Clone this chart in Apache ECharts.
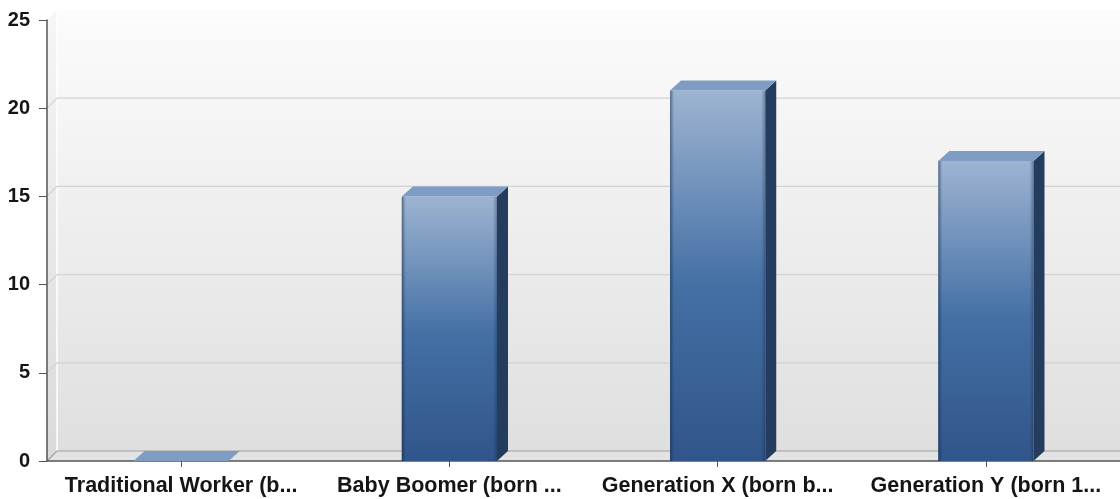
<!DOCTYPE html>
<html>
<head>
<meta charset="utf-8">
<script src="https://cdn.jsdelivr.net/npm/echarts@6/dist/echarts.min.js"></script>
<style>
  html, body { margin: 0; padding: 0; background: #ffffff; }
  #chart { width: 1120px; height: 499px; }
</style>
</head>
<body>
<div id="chart"></div>
<script>
// Generational groups and their counts
const categories = [
  'Traditional Worker (b...',
  'Baby Boomer (born ...',
  'Generation X (born b...',
  'Generation Y (born 1...'
];
const counts = [0, 15, 21, 17];
const yTicks = [0, 5, 10, 15, 20, 25];

const WALL_DEPTH = 10;   // depth of the back wall / floor
const BAR_DX = 11;       // bar side-face offset
const BAR_DY = 10;

const chart = echarts.init(document.getElementById('chart'), null, { renderer: 'canvas' });

// Back wall, left wall, floor and gridlines drawn as one shape group
function renderWalls(params, api) {
  const cs = params.coordSys;
  const x0 = cs.x, x1 = cs.x + cs.width;
  const yTop = api.coord([0, yTicks[yTicks.length - 1]])[1];
  const yBase = api.coord([0, 0])[1];
  const D = WALL_DEPTH;
  const children = [];

  // back wall
  children.push({
    type: 'rect',
    shape: { x: x0 + D, y: yTop - D, width: x1 - x0 - D, height: yBase - yTop },
    style: {
      fill: new echarts.graphic.LinearGradient(0, 0, 0, 1, [
        { offset: 0, color: '#fcfcfc' },
        { offset: 1, color: '#dfdfdf' }
      ])
    }
  });
  // left wall
  children.push({
    type: 'polygon',
    shape: { points: [[x0, yTop], [x0 + D, yTop - D], [x0 + D, yBase - D], [x0, yBase]] },
    style: {
      fill: new echarts.graphic.LinearGradient(0, 0, 0, 1, [
        { offset: 0, color: '#f6f6f6' },
        { offset: 1, color: '#dadada' }
      ])
    }
  });
  // white edge between left wall and back wall
  children.push({
    type: 'line',
    shape: { x1: x0 + D, y1: yTop - D, x2: x0 + D, y2: yBase - D },
    style: { stroke: '#ffffff', lineWidth: 1.5 }
  });
  // gridlines
  yTicks.forEach(function (v) {
    if (v === 0 || v === yTicks[yTicks.length - 1]) return;
    const y = api.coord([0, v])[1];
    children.push({
      type: 'polyline',
      shape: { points: [[x0, y], [x0 + D, y - D], [x1, y - D]] },
      style: { stroke: '#d2d2d2', lineWidth: 1.2, fill: null }
    });
  });
  // floor
  children.push({
    type: 'polygon',
    shape: { points: [[x0, yBase], [x0 + D, yBase - D], [x1, yBase - D], [x1, yBase]] },
    style: { fill: '#e3e3e3' }
  });
  children.push({
    type: 'polyline',
    shape: { points: [[x0, yBase], [x0 + D, yBase - D], [x1, yBase - D]] },
    style: { stroke: '#a0a0a0', lineWidth: 1.2, fill: null }
  });
  return { type: 'group', children: children };
}

// 3D-looking column: front face, right side face and top face
function renderBar(params, api) {
  const idx = api.value(0);
  const val = api.value(1);
  const top = api.coord([idx, val]);
  const base = api.coord([idx, 0]);
  const w = api.size([1, 0])[0] * 0.355;
  const xl = top[0] - w / 2, xr = top[0] + w / 2;
  const yt = top[1], yb = base[1];
  const children = [];

  if (yb - yt > 0) {
    children.push({
      type: 'rect',
      shape: { x: xl, y: yt, width: w, height: yb - yt },
      style: {
        fill: new echarts.graphic.LinearGradient(0, 0, 0, 1, [
          { offset: 0, color: '#9db4d2' },
          { offset: 0.52, color: '#4470a5' },
          { offset: 1, color: '#30558a' }
        ])
      }
    });
    // soft shading along left and right edges of the front face
    children.push({
      type: 'rect',
      shape: { x: xl, y: yt, width: 4, height: yb - yt },
      style: {
        fill: new echarts.graphic.LinearGradient(0, 0, 1, 0, [
          { offset: 0, color: 'rgba(20,35,60,0.5)' },
          { offset: 1, color: 'rgba(20,35,60,0)' }
        ])
      }
    });
    children.push({
      type: 'rect',
      shape: { x: xr - 4, y: yt, width: 4, height: yb - yt },
      style: {
        fill: new echarts.graphic.LinearGradient(0, 0, 1, 0, [
          { offset: 0, color: 'rgba(20,35,60,0)' },
          { offset: 1, color: 'rgba(20,35,60,0.35)' }
        ])
      }
    });
    children.push({
      type: 'polygon',
      shape: { points: [[xr, yt], [xr + BAR_DX, yt - BAR_DY], [xr + BAR_DX, yb - BAR_DY], [xr, yb]] },
      style: { fill: '#243d5e' }
    });
  }
  children.push({
    type: 'polygon',
    shape: { points: [[xl, yt], [xl + BAR_DX, yt - BAR_DY], [xr + BAR_DX, yt - BAR_DY], [xr, yt]] },
    style: { fill: '#7f9dc4' }
  });
  return { type: 'group', children: children };
}

const labelFont = {
  fontFamily: '"Liberation Sans", Arial, sans-serif',
  fontWeight: 'bold',
  color: '#151515'
};

chart.setOption({
  animation: false,
  backgroundColor: '#ffffff',
  grid: { left: 47, right: 0, top: 20, bottom: 38, containLabel: false },
  xAxis: {
    type: 'category',
    data: categories,
    axisLine: { show: true, lineStyle: { color: '#555555', width: 1.5 } },
    axisTick: { show: true, alignWithLabel: true, length: 6, lineStyle: { color: '#555555' } },
    axisLabel: Object.assign({ interval: 0, fontSize: 21.5, margin: 14 }, labelFont),
    splitLine: { show: false }
  },
  yAxis: {
    type: 'value',
    min: 0,
    max: 25,
    interval: 5,
    axisLine: { show: true, lineStyle: { color: '#555555', width: 1.5 } },
    axisTick: { show: true, length: 8, lineStyle: { color: '#555555' } },
    axisLabel: Object.assign({ fontSize: 20, margin: 17 }, labelFont),
    splitLine: { show: false }
  },
  series: [
    {
      type: 'custom',
      z: 0,
      silent: true,
      clip: false,
      renderItem: renderWalls,
      data: [[0, 0]]
    },
    {
      type: 'custom',
      z: 2,
      clip: false,
      renderItem: renderBar,
      encode: { x: 0, y: 1 },
      data: counts.map(function (v, i) { return [i, v]; })
    }
  ]
});
</script>
</body>
</html>
